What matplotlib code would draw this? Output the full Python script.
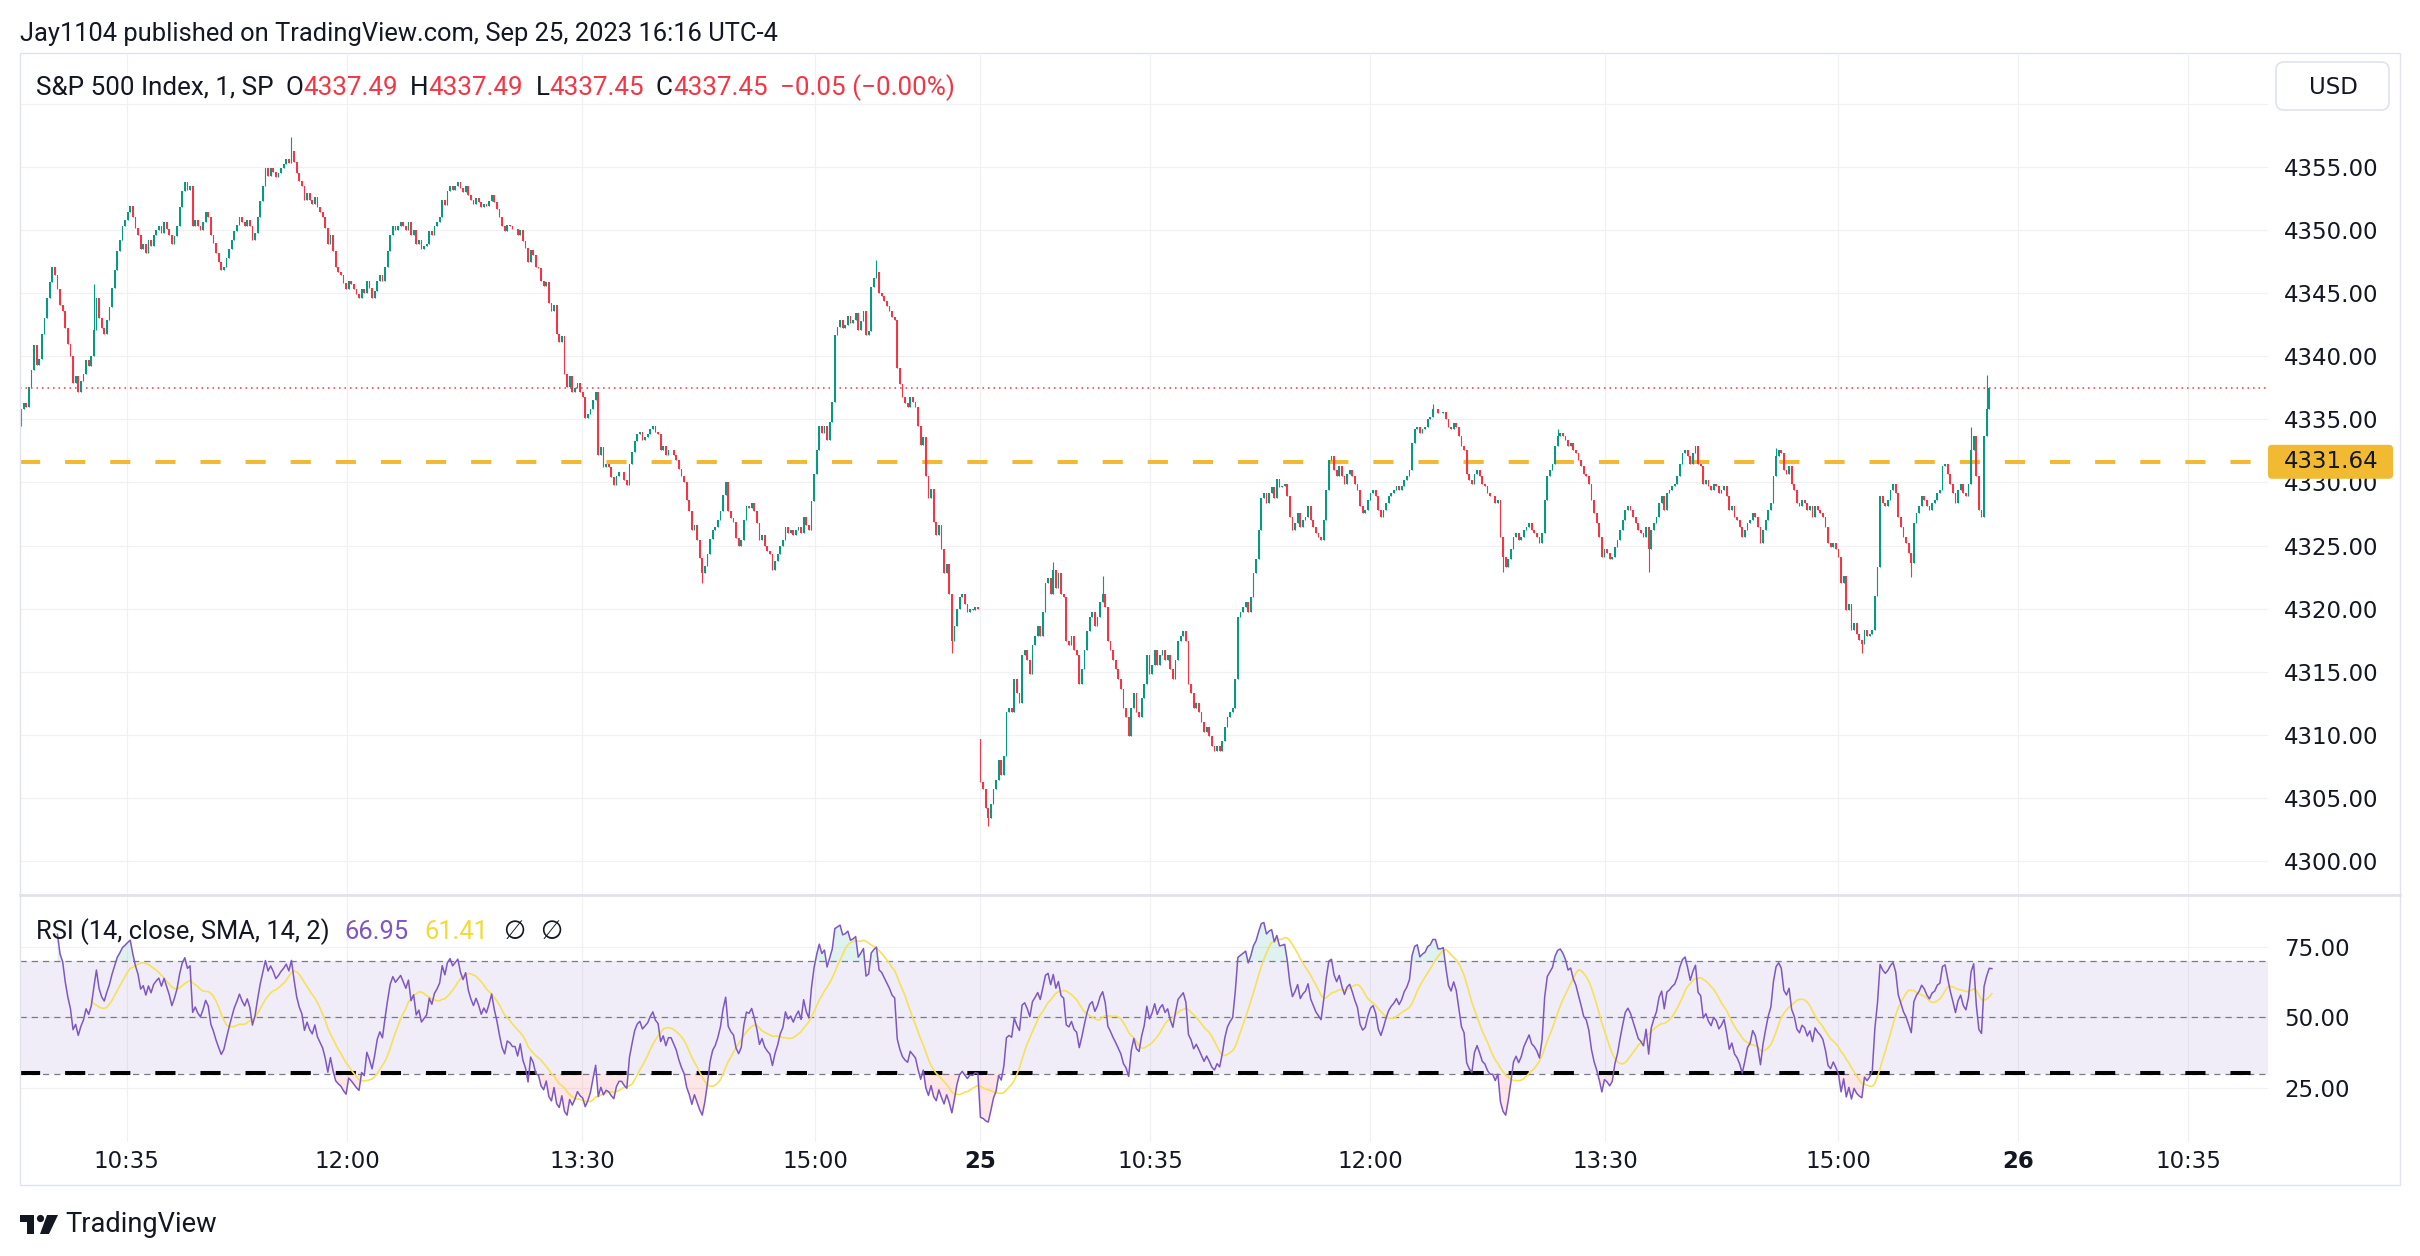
import matplotlib
matplotlib.use("Agg")
import matplotlib.pyplot as plt
from matplotlib.patches import Rectangle, FancyBboxPatch, Circle, Polygon
from matplotlib.transforms import IdentityTransform
from matplotlib.lines import Line2D
import numpy as np
import pandas as pd

plt.rcParams['font.family'] = ['DejaVu Sans']

BASE = 4300.0

# Sep 22 session, 1-minute closes (offset from 4300), first bar 9:54
d1_close = [
    35.8, 36.3, 36.0, 37.6, 38.9, 40.9, 39.3, 39.8, 41.8, 43.0,
    44.6, 45.9, 47.1, 46.4, 45.3, 44.1, 43.6, 42.2, 41.0, 40.0,
    37.9, 38.4, 37.2, 38.0, 38.6, 39.7, 39.2, 40.0, 42.1, 44.6,
    43.0, 42.2, 41.8, 42.9, 43.9, 45.4, 46.8, 48.3, 49.2, 50.3,
    50.8, 51.4, 51.9, 51.0, 50.2, 49.6, 48.5, 48.9, 48.2, 49.2,
    48.7, 49.6, 50.0, 50.3, 49.8, 50.6, 50.1, 49.6, 48.9, 49.5,
    50.3, 51.8, 53.1, 53.8, 53.2, 53.5, 50.3, 50.8, 50.3, 50.0,
    50.6, 51.4, 51.0, 49.6, 49.0, 48.2, 47.5, 46.8, 47.1, 47.8,
    48.5, 49.2, 49.9, 50.4, 51.0, 50.6, 50.3, 50.8, 50.3, 49.2,
    49.8, 51.0, 52.3, 53.5, 54.9, 54.3, 54.9, 54.6, 54.2, 54.5,
    54.9, 55.2, 55.6, 55.3, 56.3, 55.4, 54.5, 53.9, 53.5, 52.4,
    52.9, 52.4, 52.1, 52.6, 51.8, 51.4, 51.0, 50.2, 48.9, 49.6,
    48.3, 47.1, 46.7, 46.4, 45.8, 45.3, 46.0, 45.7, 45.3, 44.9,
    44.6, 45.3, 45.0, 46.0, 45.4, 44.6, 45.2, 46.0, 46.4, 46.0,
    47.1, 48.3, 49.6, 50.3, 50.0, 50.3, 50.6, 50.3, 50.0, 50.6,
    49.6, 50.0, 48.9, 49.2, 48.5, 48.7, 48.9, 49.9, 49.6, 50.3,
    50.6, 51.0, 52.4, 52.0, 53.1, 53.5, 53.2, 53.5, 53.8, 53.3,
    53.0, 53.5, 52.8, 52.4, 52.1, 52.5, 52.2, 51.8, 52.1, 51.9,
    52.3, 52.8, 52.2, 51.7, 51.0, 50.3, 49.9, 50.4, 50.3, 50.1,
    50.1, 49.6, 50.0, 49.1, 48.6, 47.5, 48.4, 48.0, 47.1, 47.0,
    46.0, 45.6, 45.9, 44.2, 43.6, 44.1, 41.8, 41.1, 41.6, 38.6,
    37.6, 38.4, 37.2, 37.5, 37.9, 37.2, 36.8, 35.1, 35.4, 35.8,
    36.5, 37.2, 32.2, 32.8, 31.2, 31.5, 31.2, 30.4, 29.8, 30.5,
    30.8, 30.8, 30.2, 29.8, 31.5, 32.4, 33.3, 33.8, 34.0, 33.4,
    33.6, 33.8, 34.2, 34.5, 34.0, 33.8, 32.6, 32.9, 32.2, 32.6,
    32.6, 32.2, 31.8, 31.1, 30.5, 30.0, 28.6, 27.7, 26.2, 26.6,
    25.4, 24.0, 22.8, 23.4, 24.3, 25.5, 26.2, 26.5, 27.0, 27.7,
    29.0, 30.0, 27.7, 27.2, 26.9, 25.6, 25.0, 25.4, 27.0, 28.1,
    28.0, 28.4, 27.7, 26.8, 25.4, 25.8, 25.0, 24.6, 24.3, 23.1,
    23.8, 24.3, 25.0, 25.4, 26.5, 26.0, 26.2, 25.8, 26.2, 26.5,
    26.0, 27.3, 26.6, 26.2, 28.5, 30.7, 32.6, 34.5, 33.9, 34.5,
    33.4, 34.8, 36.4, 41.7, 42.3, 42.9, 42.2, 42.5, 43.2, 42.6,
    42.9, 43.4, 42.1, 42.8, 43.6, 41.7, 42.0, 45.5, 46.2, 46.7,
    45.0, 44.8, 44.4, 44.0, 43.6, 43.1, 42.9, 39.1, 37.8, 36.8,
    36.3, 36.0, 36.8, 36.4, 36.0, 34.5, 33.0, 33.6, 30.5, 28.8,
    29.5, 26.9, 25.8, 26.6, 24.7, 22.8, 23.5, 21.2, 17.4, 18.6,
    20.0, 20.9, 21.2, 20.4, 19.7, 20.0, 19.9, 20.1, 20.0,
]
d1_first_open = 34.5

# Sep 25 session, 1-minute closes (offset from 4300), first bar 9:30
d2_close = [
    6.3, 5.7, 4.2, 3.4, 4.5, 5.7, 6.4, 8.0, 6.8, 8.3,
    11.8, 12.1, 11.8, 14.4, 13.3, 12.5, 16.3, 16.7, 15.9, 14.8,
    17.1, 17.8, 18.6, 17.8, 19.7, 22.0, 22.4, 21.2, 23.1, 21.6,
    22.8, 21.2, 20.9, 17.4, 17.1, 17.8, 16.7, 16.3, 14.0, 15.2,
    16.7, 18.2, 19.3, 19.7, 18.6, 19.3, 20.5, 21.2, 20.1, 17.4,
    16.7, 15.9, 15.2, 14.4, 13.6, 12.1, 11.4, 9.9, 12.1, 13.3,
    11.8, 11.4, 12.9, 14.0, 16.3, 14.8, 15.5, 16.7, 15.5, 16.3,
    16.7, 15.9, 16.3, 15.2, 14.4, 15.9, 17.4, 17.8, 18.2, 17.4,
    14.0, 13.3, 12.1, 12.5, 11.8, 11.0, 10.2, 10.6, 9.9, 9.1,
    8.7, 9.1, 8.7, 9.5, 10.6, 11.4, 11.8, 12.1, 14.4, 19.3,
    19.7, 20.1, 20.5, 19.7, 20.9, 22.8, 23.9, 26.2, 28.8, 29.2,
    28.4, 29.2, 29.6, 28.8, 30.3, 29.6, 29.7, 29.9, 28.9, 27.3,
    26.2, 26.8, 27.6, 26.5, 27.0, 27.3, 28.1, 27.0, 26.5, 26.0,
    25.7, 25.4, 27.0, 29.4, 31.8, 32.1, 31.0, 30.5, 31.3, 30.5,
    29.9, 30.7, 31.0, 30.5, 29.9, 29.4, 28.1, 27.6, 27.8, 28.6,
    29.2, 29.4, 28.9, 27.8, 27.3, 27.8, 28.4, 28.9, 29.2, 29.4,
    29.7, 29.4, 29.7, 30.2, 30.5, 31.0, 33.1, 34.2, 34.4, 33.9,
    34.2, 34.4, 35.0, 35.2, 35.8, 35.8, 35.5, 35.5, 35.6, 35.0,
    34.4, 34.2, 34.7, 34.4, 33.7, 32.9, 32.6, 30.7, 30.2, 29.9,
    30.7, 31.0, 30.5, 29.9, 29.7, 29.2, 28.9, 28.9, 28.4, 28.6,
    25.7, 24.1, 23.3, 23.9, 24.7, 25.7, 26.0, 25.4, 25.7, 26.2,
    26.5, 26.8, 26.2, 26.0, 25.7, 25.2, 26.0, 28.6, 30.5, 31.0,
    31.5, 32.9, 33.7, 33.9, 33.7, 33.4, 32.9, 33.1, 32.6, 32.3,
    31.8, 31.3, 30.7, 30.5, 29.9, 28.6, 27.6, 26.8, 25.7, 24.1,
    24.7, 24.4, 23.9, 24.1, 24.9, 25.4, 26.2, 27.0, 27.8, 28.1,
    27.8, 27.3, 26.8, 26.2, 26.0, 25.7, 26.5, 24.7, 26.2, 26.8,
    27.3, 28.4, 28.9, 27.8, 29.2, 29.4, 29.7, 29.9, 30.5, 31.5,
    32.3, 32.6, 32.1, 31.5, 32.3, 32.9, 31.5, 31.3, 29.9, 30.2,
    29.7, 29.4, 29.9, 29.7, 29.2, 29.4, 29.7, 28.9, 27.8, 28.1,
    27.3, 27.0, 26.5, 25.7, 26.2, 26.8, 27.0, 27.6, 27.3, 26.5,
    25.2, 26.2, 27.0, 27.8, 28.4, 30.5, 32.1, 32.6, 32.3, 31.0,
    30.7, 31.3, 29.9, 29.4, 28.4, 28.1, 28.6, 28.4, 27.8, 28.1,
    27.3, 28.1, 27.8, 27.6, 27.3, 26.5, 25.2, 24.9, 25.2, 24.7,
    24.1, 22.0, 22.6, 19.9, 20.4, 18.3, 18.9, 18.0, 17.5, 17.2,
    18.3, 17.8, 18.0, 18.3, 21.0, 23.3, 28.9, 28.4, 28.1, 28.6,
    29.4, 29.9, 29.2, 27.3, 26.5, 25.7, 25.2, 24.4, 23.6, 26.8,
    27.6, 28.1, 28.9, 28.6, 28.1, 27.8, 28.4, 28.6, 29.2, 29.4,
    31.3, 31.5, 30.7, 29.9, 29.2, 28.4, 29.4, 29.9, 29.2, 28.9,
    29.9, 32.6, 33.7, 30.5, 27.8, 27.3, 33.7, 35.8, 37.49, 37.45,
]
d2_first_open = 9.7

# wick extremes (bar index within the session, price offset)
d1_wick_i = [28, 104, 262, 329, 358]
d1_wick_p = [45.7, 57.4, 22.0, 47.6, 16.5]
d2_wick_j = [3, 28, 47, 174, 201, 222, 257, 306, 339, 358, 381, 387]
d2_wick_p = [2.8, 23.7, 22.6, 36.2, 22.9, 34.2, 22.9, 32.7, 16.5, 22.5, 34.4, 38.5]

hline_level = 4331.64
last_ohlc = [4337.49, 4337.49, 4337.45, 4337.45]
last_change = "\u22120.05 (\u22120.00%)"
rsi_last, rsi_ma_last = 66.95, 61.41

price_ticks = [4300, 4305, 4310, 4315, 4320, 4325, 4330, 4335, 4340, 4345, 4350, 4355, 4360]
rsi_ticks = [25, 50, 75]
time_labels = ['10:35', '12:00', '13:30', '15:00', '25', '10:35', '12:00',
               '13:30', '15:00', '26', '10:35']
time_pos = [40.6, 125.4, 215.8, 305.4, 369.0, 434.2, 518.8, 609.2, 698.8, 768.1, 833.5]

# ---- build OHLC + RSI ----
close = BASE + np.array(d1_close + d2_close)
n1 = len(d1_close)
opn = np.r_[BASE + d1_first_open, close[:-1]]
opn[n1] = BASE + d2_first_open
hi = np.maximum(opn, close)
lo = np.minimum(opn, close)
wicks = list(zip(d1_wick_i, d1_wick_p)) + [(n1 + j, p) for j, p in zip(d2_wick_j, d2_wick_p)]
for idx, p in wicks:
    hi[idx] = max(hi[idx], BASE + p)
    lo[idx] = min(lo[idx], BASE + p)
x = np.arange(len(close))

s = pd.Series(close)
d = s.diff()
up = d.clip(lower=0).ewm(alpha=1 / 14, adjust=False, min_periods=14).mean()
dn = (-d.clip(upper=0)).ewm(alpha=1 / 14, adjust=False, min_periods=14).mean()
rsi = (100 - 100 / (1 + up / dn)).to_numpy()
rsi_ma = pd.Series(rsi).rolling(14).mean().to_numpy()

# ---- styling ----
W, H = 2420, 1256
GREEN = '#089981'
RED = '#F23645'
TXT = '#131722'
GRID = '#f0f1f4'
BORDER = '#e0e3eb'
GOLD = '#F2BA33'
PURPLE = '#7E57C2'
MA_YELLOW = '#F5E15A'
UI = ['Roboto', 'DejaVu Sans']
PX = IdentityTransform()

fig = plt.figure(figsize=(W / 100, H / 100), dpi=100)
fig.patch.set_facecolor('white')
renderer = fig.canvas.get_renderer()


def box(x0, y0, x1, y1):
    return [x0 / W, 1 - y1 / H, (x1 - x0) / W, (y1 - y0) / H]


ax_p = fig.add_axes(box(20, 55, 2268, 895))
ax_r = fig.add_axes(box(20, 895, 2268, 1142))

# candles
rise = close >= opn
for m, c in ((rise, GREEN), (~rise, RED)):
    ax_p.vlines(x[m], lo[m], hi[m], color=c, lw=0.8, zorder=3)
    ax_p.bar(x[m], (close - opn)[m], bottom=opn[m], width=0.72, color=c, lw=0, zorder=3)

ax_p.axhline(hline_level, color=GOLD, lw=2.9, ls=(0, (5, 6.2)), zorder=2)
ax_p.axhline(last_ohlc[3], color=RED, lw=1.1, ls=(0, (1, 2.6)), zorder=2)

# RSI pane
ax_r.axhspan(30, 70, color=PURPLE, alpha=0.1, lw=0, zorder=1)
for lvl in (70, 50, 30):
    ax_r.axhline(lvl, color='#787B86', lw=0.9, ls=(0, (5, 4)), zorder=2)
ax_r.axhline(30.3, color='black', lw=2.9, ls=(0, (5, 6.2)), zorder=2.5)
ax_r.fill_between(x, rsi, 70, where=rsi > 70, color=GREEN, alpha=0.12, lw=0, interpolate=True, zorder=2)
ax_r.fill_between(x, rsi, 30, where=rsi < 30, color=RED, alpha=0.12, lw=0, interpolate=True, zorder=2)
ax_r.plot(x, rsi_ma, color=MA_YELLOW, lw=1.2, zorder=3)
ax_r.plot(x, rsi, color=PURPLE, lw=1.1, zorder=4)

for a in (ax_p, ax_r):
    for sp in a.spines.values():
        sp.set_visible(False)
    a.set_xlim(-0.4, 864.2)
    a.set_xticks(time_pos)
    a.grid(True, color=GRID, lw=0.9, zorder=0)
    a.set_axisbelow(True)
    a.yaxis.tick_right()
    a.tick_params(length=0, labelsize=16.5, labelcolor=TXT)
    a.tick_params(axis='y', pad=11.5)

ax_p.set_ylim(4297.31, 4363.87)
ax_p.set_yticks(price_ticks)
ax_p.set_yticklabels([f'{v:.2f}' if v < 4360 else '' for v in price_ticks])
ax_p.tick_params(axis='x', labelbottom=False)

ax_r.set_ylim(5.85, 93.44)
ax_r.set_yticks(rsi_ticks)
ax_r.set_yticklabels([f'{v:.2f}' for v in rsi_ticks])
ax_r.set_xticklabels(time_labels)
ax_r.tick_params(axis='x', pad=6)
for lab in ax_r.get_xticklabels():
    if lab.get_text() in ('25', '26'):
        lab.set_fontweight('bold')


# ---- texts ----
def put_text(xp, yp, s, color=TXT, size=15, family=UI, ha='left', weight='normal'):
    return fig.text(xp / W, 1 - yp / H, s, color=color, fontsize=size, family=family,
                    ha=ha, va='center', fontweight=weight)


def fit_size(s, width, family=UI):
    t = put_text(0, 0, s, size=20, family=family)
    w = t.get_window_extent(renderer).width
    t.remove()
    return 20 * width / w


def text_row(x0, yp, parts, size, gap):
    xp = x0
    for part in parts:
        if part is None:
            xp += gap
            continue
        t = put_text(xp, yp, part[0], color=part[1], size=size)
        xp += t.get_window_extent(renderer).width


header = "Jay1104 published on TradingView.com, Sep 25, 2023 16:16 UTC-4"
put_text(20, 34, header, size=fit_size(header, 758))

sym = "S&P 500 Index, 1, SP"
sz = fit_size(sym, 237)
parts = [(sym, TXT), None]
for lbl, v in zip("OHLC", last_ohlc):
    parts += [(lbl, TXT), (f'{v:.2f}', RED), None]
parts += [(last_change, RED)]
text_row(36, 88, parts, sz, 12)

rsi_lbl = "RSI (14, close, SMA, 14, 2)"
sz = fit_size(rsi_lbl, 294)
text_row(36, 932, [(rsi_lbl, TXT), None, (f'{rsi_last:.2f}', PURPLE), None,
                   (f'{rsi_ma_last:.2f}', '#F0DA3C'), None, ('\u2205', TXT), None, ('\u2205', TXT)],
         sz, 15)

# USD box
fig.add_artist(FancyBboxPatch((2276, H - 110), 113, 48, boxstyle='round,pad=0,rounding_size=8',
                              transform=PX, fc='white', ec=BORDER, lw=1.2))
put_text(2333, 87, 'USD', size=16.5, family=['DejaVu Sans'], ha='center')

# horizontal line price label
yl = 167 + (4355 - hline_level) * 12.62
fig.add_artist(FancyBboxPatch((2268, H - yl - 17), 125, 34, boxstyle='round,pad=0,rounding_size=4',
                              transform=PX, fc=GOLD, ec='none', zorder=5))
t = put_text(2284, yl, f'{hline_level:.2f}', size=16.5, family=['DejaVu Sans'])
t.set_zorder(6)

# frame and pane separator
fig.add_artist(Rectangle((20, H - 1185), 2380, 1185 - 53, transform=PX, fill=False, ec=BORDER, lw=1.0))
fig.add_artist(Line2D([20, 2400], [H - 895, H - 895], transform=PX, color=BORDER, lw=2.0))

# TradingView brand mark
fig.add_artist(Rectangle((20, H - 1222), 14, 7, transform=PX, fc=TXT, ec='none'))
fig.add_artist(Rectangle((27, H - 1234), 7, 19, transform=PX, fc=TXT, ec='none'))
fig.add_artist(Circle((40.5, H - 1218.5), 3.6, transform=PX, fc=TXT, ec='none'))
fig.add_artist(Polygon([(47, H - 1215), (58, H - 1215), (49, H - 1234), (40, H - 1234)],
                       closed=True, transform=PX, fc=TXT, ec='none'))
brand = "TradingView"
put_text(65, 1224, brand, size=fit_size(brand, 151))

fig.savefig('out.png', dpi=100, facecolor='white')
